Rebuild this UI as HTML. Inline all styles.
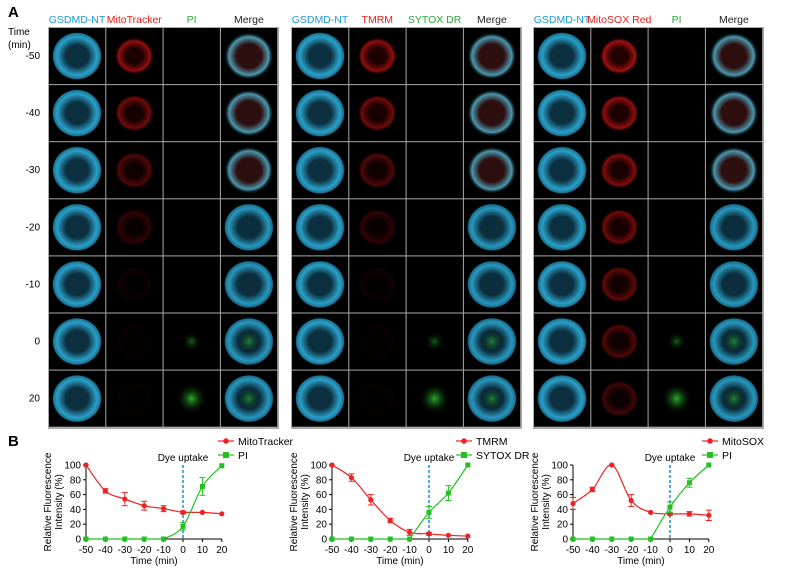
<!DOCTYPE html>
<html><head><meta charset="utf-8">
<style>
html,body{margin:0;padding:0;background:#fff;}
svg{display:block;font-family:"Liberation Sans",Arial,sans-serif;}
</style></head>
<body>
<svg id="s" width="809" height="569" viewBox="0 0 809 569" xmlns="http://www.w3.org/2000/svg">
<defs>
<radialGradient id="gc" cx="50%" cy="50%" r="50%"><stop offset="0.45" stop-color="#0c3040"/><stop offset="0.8" stop-color="#2aa0c8"/><stop offset="0.95" stop-color="#1a7090"/><stop offset="1" stop-color="#000" stop-opacity="0"/></radialGradient>
<radialGradient id="gr" cx="50%" cy="50%" r="50%"><stop offset="0.4" stop-color="#200000"/><stop offset="0.8" stop-color="#a01010"/><stop offset="1" stop-color="#000" stop-opacity="0"/></radialGradient>
<radialGradient id="gg" cx="50%" cy="50%" r="50%"><stop offset="0" stop-color="#30c030"/><stop offset="1" stop-color="#000" stop-opacity="0"/></radialGradient>
<radialGradient id="gm" cx="50%" cy="50%" r="50%"><stop offset="0.5" stop-color="#301010"/><stop offset="0.8" stop-color="#50a0b8"/><stop offset="1" stop-color="#000" stop-opacity="0"/></radialGradient>
</defs>
<text x="8" y="17" font-size="15" font-weight="bold">A</text>
<text x="8" y="446" font-size="15" font-weight="bold">B</text>
<text x="8" y="35" font-size="10">Time</text>
<text x="8" y="48" font-size="10">(min)</text>
<g id="g"></g>
</svg>
<script>
var s=document.getElementById('g'),NS='http://www.w3.org/2000/svg';
function el(t,a,txt){var e=document.createElementNS(NS,t);for(var k in a)e.setAttribute(k,a[k]);if(txt!=null)e.textContent=txt;s.appendChild(e);return e;}
var groups=[{x:49,h:['GSDMD-NT','MitoTracker','PI','Merge']},{x:292,h:['GSDMD-NT','TMRM','SYTOX DR','Merge']},{x:534,h:['GSDMD-NT','MitoSOX Red','PI','Merge']}];
var hc=['#1a9ad6','#e8201c','#2aaa3a','#222'];
var times=['-50','-40','-30','-20','-10','0','20'];
for(var i=0;i<7;i++)el('text',{x:40,y:28+i*57.1+31,'font-size':10,'text-anchor':'end'},times[i]);
groups.forEach(function(G,gi){
 el('rect',{x:G.x-1,y:27,width:231,height:402,fill:'#aaa'});
 for(var j=0;j<4;j++){
  el('text',{x:G.x+j*57.3+28,y:23,'font-size':10.5,'text-anchor':'middle',fill:hc[j]},G.h[j]);
  for(var i=0;i<7;i++){
   var x=G.x+j*57.3,y=28+i*57.1;
   el('rect',{x:x,y:y,width:56.3,height:56.1,fill:'#000'});
   var cx=x+28,cy=y+28,rx=25,ry=24;
   if(j==0)el('ellipse',{cx:cx,cy:cy,rx:rx,ry:ry,fill:'url(#gc)'});
   if(j==3)el('ellipse',{cx:cx,cy:cy,rx:rx,ry:ry,fill:i<3?'url(#gm)':'url(#gc)',opacity:0.95});
   if(j==1){var op=gi==2?Math.max(0.3,1-i*0.1):Math.max(0.05,0.9-i*0.2);el('ellipse',{cx:cx,cy:cy,rx:20,ry:19,fill:'url(#gr)',opacity:op});}
   if(j==2&&i>=5)el('ellipse',{cx:cx,cy:cy,rx:i==6?16:10,ry:i==6?16:10,fill:'url(#gg)',opacity:i==6?0.9:0.5});
   if(j==3&&i>=5)el('ellipse',{cx:cx,cy:cy,rx:12,ry:12,fill:'url(#gg)',opacity:0.6});
  }
 }
});
var charts=[{x0:86,lx:218,leg:['MitoTracker','PI'],r:[100,65,54,45,41,36,36,34],re:[0,3,9,6,4,2,1,1],g:[0,0,0,0,0,17,71,99],ge:[0,0,0,0,0,5,12,1]},
{x0:332,lx:456,leg:['TMRM','SYTOX DR'],r:[100,83,53,25,9,7,5,4],re:[0,5,7,3,4,2,1,1],g:[0,0,0,0,0,36,62,100],ge:[0,0,0,0,0,8,10,1]},
{x0:573,lx:702,leg:['MitoSOX','PI'],r:[48,67,100,52,36,34,34,32],re:[8,3,1,8,1,2,3,7],g:[0,0,0,0,0,43,76,100],ge:[0,0,0,0,0,7,6,1]}];
var Y0=539,YS=0.74;
function path(pts){var d='M'+pts[0][0]+','+pts[0][1];for(var i=0;i<pts.length-1;i++){var p0=pts[Math.max(0,i-1)],p1=pts[i],p2=pts[i+1],p3=pts[Math.min(pts.length-1,i+2)];
 var c1=[p1[0]+(p2[0]-p0[0])/6,p1[1]+(p2[1]-p0[1])/6],c2=[p2[0]-(p3[0]-p1[0])/6,p2[1]-(p3[1]-p1[1])/6];
 if(p1[1]==p2[1]){c1[1]=p1[1];c2[1]=p2[1];}
 d+=' C'+c1+' '+c2+' '+p2;}return d;}
charts.forEach(function(C){
 var X=function(t){return C.x0+(t+50)*1.94;},Yv=function(v){return Y0-v*YS;};
 el('line',{x1:C.x0,y1:Yv(0),x2:C.x0,y2:Yv(100),stroke:'#000','stroke-width':1});
 el('line',{x1:C.x0,y1:Y0,x2:X(20),y2:Y0,stroke:'#000','stroke-width':1});
 for(var v=0;v<=100;v+=20){el('line',{x1:C.x0-3,y1:Yv(v),x2:C.x0,y2:Yv(v),stroke:'#000'});el('text',{x:C.x0-5,y:Yv(v)+3.5,'font-size':10,'text-anchor':'end'},v);}
 for(var t=-50;t<=20;t+=10){el('line',{x1:X(t),y1:Y0,x2:X(t),y2:Y0+3,stroke:'#000'});el('text',{x:X(t),y:Y0+14,'font-size':10,'text-anchor':'middle'},t);}
 el('text',{x:(C.x0+X(20))/2,y:Y0+25,'font-size':10,'text-anchor':'middle'},'Time (min)');
 el('text',{transform:'translate('+(C.x0-35)+','+(Y0-37)+') rotate(-90)','font-size':10,'text-anchor':'middle'},'Relative Fluorescence');
 el('text',{transform:'translate('+(C.x0-24)+','+(Y0-37)+') rotate(-90)','font-size':10,'text-anchor':'middle'},'Intensity (%)');
 el('line',{x1:X(0),y1:Yv(100),x2:X(0),y2:Y0,stroke:'#1a8ee0','stroke-width':1.5,'stroke-dasharray':'3,2'});
 el('text',{x:X(0),y:Yv(100)-4,'font-size':10,'text-anchor':'middle'},'Dye uptake');
 var ts=[-50,-40,-30,-20,-10,0,10,20];
 [['r','#ee2222'],['g','#22c022']].forEach(function(sr){
  var vals=C[sr[0]],er=C[sr[0]+'e'],col=sr[1];
  var pts=ts.map(function(t,i){return [X(t),Yv(vals[i])];});
  if(sr[0]=='g'){pts=pts.slice(4);el('line',{x1:X(-50),y1:Y0,x2:X(-10),y2:Y0,stroke:col,'stroke-width':1.2});}
  el('path',{d:path(pts),fill:'none',stroke:col,'stroke-width':1.2});
  ts.forEach(function(t,i){var x=X(t),y=Yv(vals[i]);
   if(er[i]>1){el('line',{x1:x,y1:Yv(vals[i]+er[i]),x2:x,y2:Yv(vals[i]-er[i]),stroke:col});el('line',{x1:x-3,y1:Yv(vals[i]+er[i]),x2:x+3,y2:Yv(vals[i]+er[i]),stroke:col});el('line',{x1:x-3,y1:Yv(vals[i]-er[i]),x2:x+3,y2:Yv(vals[i]-er[i]),stroke:col});}
   if(sr[0]=='r')el('circle',{cx:x,cy:y,r:2.6,fill:col});else el('rect',{x:x-2.5,y:y-2.5,width:5,height:5,fill:col});
  });
 });
 var lx=C.lx;
 el('line',{x1:lx,y1:441,x2:lx+16,y2:441,stroke:'#ee2222','stroke-width':1.2});el('circle',{cx:lx+8,cy:441,r:2.8,fill:'#ee2222'});
 el('text',{x:lx+20,y:445,'font-size':10.5},C.leg[0]);
 el('line',{x1:lx,y1:455,x2:lx+16,y2:455,stroke:'#22c022','stroke-width':1.2});el('rect',{x:lx+5,y:452,width:6,height:6,fill:'#22c022'});
 el('text',{x:lx+20,y:459,'font-size':10.5},C.leg[1]);
});
</script>
</body></html>
